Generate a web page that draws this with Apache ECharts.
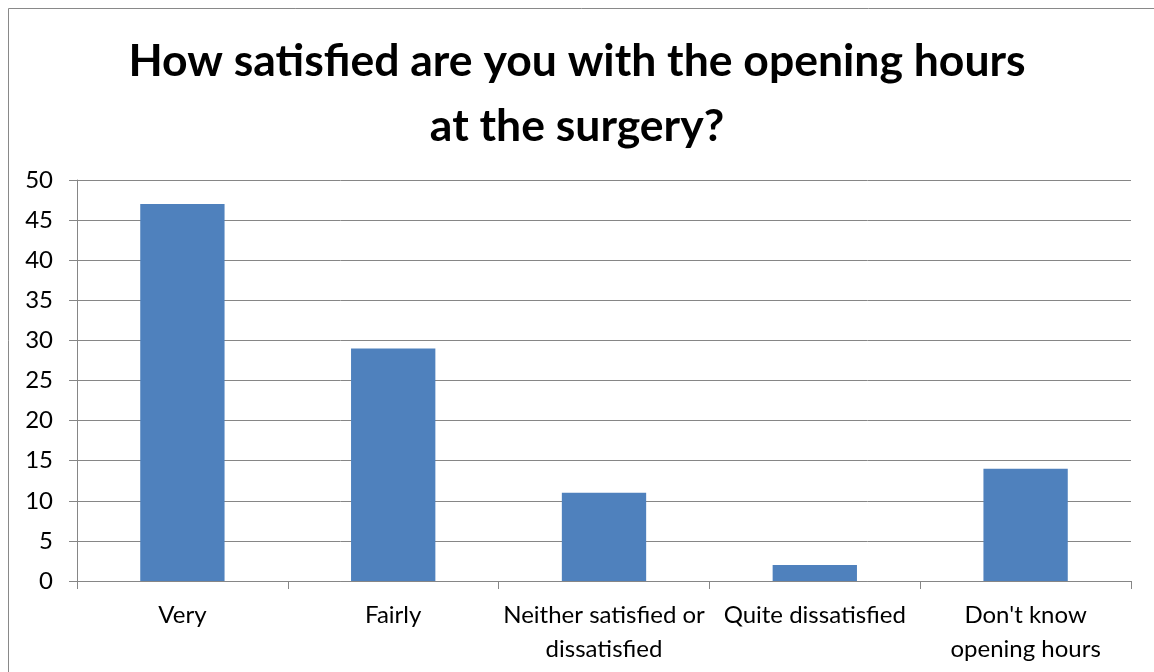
<!DOCTYPE html>
<html>
<head>
<meta charset="utf-8">
<script src="https://cdn.jsdelivr.net/npm/echarts@6/dist/echarts.min.js"></script>
<style>
  html, body { margin: 0; padding: 0; background: #fff; }
  #chart { width: 1154px; height: 672px; }
</style>
</head>
<body>
<div id="chart"></div>
<script>
  // values
  const categories = ['Very', 'Fairly', 'Neither satisfied or\ndissatisfied', 'Quite dissatisfied', 'Don\'t know\nopening hours']
  const responses = [47, 29, 11, 2, 14]

  const font = 'Lato, "Open Sans", sans-serif'
  const chart = echarts.init(document.getElementById('chart'))

  chart.setOption({
    animation: false,
    title: {
      text: 'How satisfied are you with the opening hours\nat the surgery?',
      left: 'center',
      top: 24,
      textStyle: {
        fontFamily: font,
        fontSize: 44.5,
        fontWeight: 'bold',
        color: '#000',
        lineHeight: 65
      }
    },
    graphic: [{
      type: 'rect',
      shape: { x: 8.5, y: 8.5, width: 1300, height: 800 },
      style: { fill: 'none', stroke: '#898989', lineWidth: 1 },
      silent: true
    }],
    grid: {
      left: 77,
      right: 23,
      top: 180,
      bottom: 91
    },
    xAxis: {
      type: 'category',
      data: categories,
      axisLine: { lineStyle: { color: '#868686', width: 1 } },
      axisTick: { show: true, length: 8, lineStyle: { color: '#868686' } },
      axisLabel: {
        interval: 0,
        margin: 17,
        fontFamily: font,
        fontSize: 24,
        color: '#000',
        lineHeight: 34
      }
    },
    yAxis: {
      type: 'value',
      min: 0,
      max: 50,
      interval: 5,
      axisLine: { show: true, lineStyle: { color: '#868686', width: 1 } },
      axisTick: { show: true, length: 8, lineStyle: { color: '#868686' } },
      splitLine: { lineStyle: { color: '#868686', width: 1 } },
      axisLabel: {
        margin: 24,
        fontFamily: font,
        fontSize: 24,
        color: '#000'
      }
    },
    series: [{
      type: 'bar',
      data: responses,
      barWidth: '40%',
      itemStyle: { color: '#4f81bd' }
    }]
  })
</script>
</body>
</html>
